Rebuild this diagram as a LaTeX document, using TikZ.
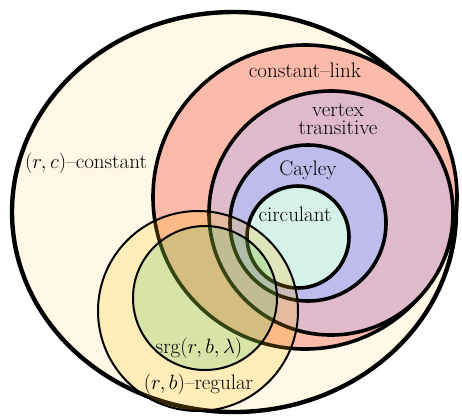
\documentclass[tikz,border=0pt]{standalone}
\usepackage{amsmath}
\usepackage{tikz}
\usepackage{xcolor}
\definecolor{rcfill}{RGB}{255,248,230}
\definecolor{linkfill}{RGB}{252,186,170}
\definecolor{vtfill}{RGB}{222,186,202}
\definecolor{cayfill}{RGB}{190,188,234}
\definecolor{circfill}{RGB}{214,240,234}
\definecolor{regfill}{RGB}{255,188,0}
\definecolor{srgfill}{RGB}{60,200,100}
\tikzset{venn/.style={draw=black, line width=3.6pt, fill=#1}}
\tikzset{venntop/.style={draw=black, line width=2pt, fill=#1, fill opacity=0.2}}
\tikzset{lbl/.style={font=\fontsize{21}{17.5}\selectfont, anchor=base, align=center, inner sep=0pt}}

\begin{document}
\begin{tikzpicture}[x=1pt,y=-1pt]
\useasboundingbox (0,0) rectangle (462,416);
% (r,c)-constant
\draw[venn=rcfill, line width=4.4pt] (234,212) ellipse [x radius=222pt, y radius=200pt];
% nested sets
\draw[venn=linkfill] (305,197) circle [radius=152pt];
\draw[venn=vtfill] (331,213) circle [radius=122pt];
\draw[venn=cayfill] (308,223) circle [radius=78pt];
\draw[venn=circfill] (298,237) circle [radius=51pt];
% overlapping sets on top
\draw[venntop=regfill] (198,311) circle [radius=100pt];
\draw[venntop=srgfill] (205,298) circle [radius=72pt];
% labels
\node[lbl] (rclbl) at (86,168) {$(r,c)$--constant};
\node[lbl] (linklbl) at (305,77) {constant--link};
\node[lbl] (vtlbl) at (338,134) {vertex\\transitive};
\node[lbl] (caylbl) at (308,175) {Cayley};
\node[lbl] (circlbl) at (295,221) {circulant};
\node[lbl] (srglbl) at (199,353) {srg$(r,b,\lambda)$};
\node[lbl] (reglbl) at (198.5,389) {$(r,b)$--regular};
\end{tikzpicture}
\end{document}
